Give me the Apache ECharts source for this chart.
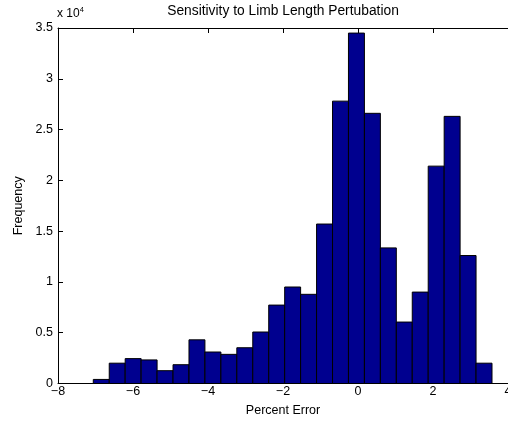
<!DOCTYPE html>
<html>
<head>
<meta charset="utf-8">
<script src="https://cdn.jsdelivr.net/npm/echarts@6/dist/echarts.min.js"></script>
<style>
  html, body { margin: 0; padding: 0; background: #fff; }
  #chart { width: 508px; height: 424px; }
</style>
</head>
<body>
<div id="chart"></div>
<script>
// Histogram bins: left edge of the first bin and common bin width (percent error)
const binStart = -7.059;
const binWidth = 0.4253;
// Counts per bin
const counts = [
  400, 2000, 2450, 2320, 1260, 1850, 4300, 3100, 2870, 3520,
  5070, 7720, 9500, 8780, 15700, 27800, 34500, 26600, 13350, 6050,
  9000, 21400, 26300, 12600, 2000
];
// Axis ticks
const xTicks = [-8, -6, -4, -2, 0, 2, 4];
const yTicks = [0, 5000, 10000, 15000, 20000, 25000, 30000, 35000];

const bins = counts.map((c, i) => [binStart + i * binWidth, binStart + (i + 1) * binWidth, c]);

const FONT = '"Liberation Sans", Arial, Helvetica, sans-serif';
const FS = 12.5;
const fmtX = v => (v < 0 ? '\u2212' + Math.abs(v) : String(v));
const fmtY = v => String(v / 10000);

const chart = echarts.init(document.getElementById('chart'), null, { renderer: 'canvas' });

const tickStyle = { color: '#000', width: 1 };
chart.setOption({
  backgroundColor: '#fff',
  animation: false,
  graphic: [{
    // plot title, centred over the axes
    type: 'text', x: 283, y: 11,
    style: {
      text: 'Sensitivity to Limb Length Pertubation',
      fontFamily: FONT, fontSize: 13.8, fill: '#000',
      align: 'center', verticalAlign: 'middle'
    }
  }, {
    // y scale multiplier
    type: 'text', left: 57, top: 6,
    style: {
      text: '{b|x 10}{s|4}',
      rich: {
        b: { fontFamily: FONT, fontSize: 12, fill: '#000', verticalAlign: 'bottom' },
        s: { fontFamily: FONT, fontSize: 7.5, fill: '#000', verticalAlign: 'top', padding: [0, 0, 6, 0] }
      }
    }
  }],
  grid: { left: 58, top: 28, right: 0, bottom: 40.5, containLabel: false, outerBoundsMode: 'none' },
  xAxis: [{
    type: 'value', min: xTicks[0], max: xTicks[xTicks.length - 1], interval: 2,
    position: 'bottom',
    name: 'Percent Error', nameLocation: 'middle', nameGap: 21,
    nameTextStyle: { fontFamily: FONT, fontSize: FS, color: '#000' },
    axisLine: { show: true, onZero: false, lineStyle: { color: '#000', width: 1 } },
    axisTick: { show: true, inside: true, length: 5, lineStyle: tickStyle },
    axisLabel: { formatter: fmtX, fontFamily: FONT, fontSize: FS, color: '#000', margin: 2, hideOverlap: false },
    splitLine: { show: false }
  }, {
    type: 'value', min: xTicks[0], max: xTicks[xTicks.length - 1], interval: 2,
    position: 'top',
    axisLine: { show: true, onZero: false, lineStyle: { color: '#000', width: 1 } },
    axisTick: { show: true, inside: true, length: 5, lineStyle: tickStyle },
    axisLabel: { show: false },
    splitLine: { show: false }
  }],
  yAxis: [{
    type: 'value', min: yTicks[0], max: yTicks[yTicks.length - 1], interval: 5000,
    position: 'left',
    name: 'Frequency', nameLocation: 'middle', nameGap: 33, nameRotate: 90,
    nameTextStyle: { fontFamily: FONT, fontSize: FS, color: '#000' },
    axisLine: { show: true, onZero: false, lineStyle: { color: '#000', width: 1 } },
    axisTick: { show: true, inside: true, length: 5, lineStyle: tickStyle },
    axisLabel: { formatter: fmtY, fontFamily: FONT, fontSize: FS, color: '#000', margin: 5 },
    splitLine: { show: false }
  }, {
    type: 'value', min: yTicks[0], max: yTicks[yTicks.length - 1], interval: 5000,
    position: 'right',
    axisLine: { show: false },
    axisTick: { show: true, inside: true, length: 5, lineStyle: tickStyle },
    axisLabel: { show: false },
    splitLine: { show: false }
  }],
  series: [{
    type: 'custom',
    xAxisIndex: 0, yAxisIndex: 0,
    data: bins,
    encode: { x: [0, 1], y: 2 },
    renderItem: function (params, api) {
      const p0 = api.coord([api.value(0), 0]);
      const p1 = api.coord([api.value(1), api.value(2)]);
      return {
        type: 'rect',
        shape: { x: p0[0], y: p1[1], width: p1[0] - p0[0], height: p0[1] - p1[1] },
        style: { fill: '#00008f', stroke: '#000', lineWidth: 1 }
      };
    }
  }]
});
</script>
</body>
</html>
